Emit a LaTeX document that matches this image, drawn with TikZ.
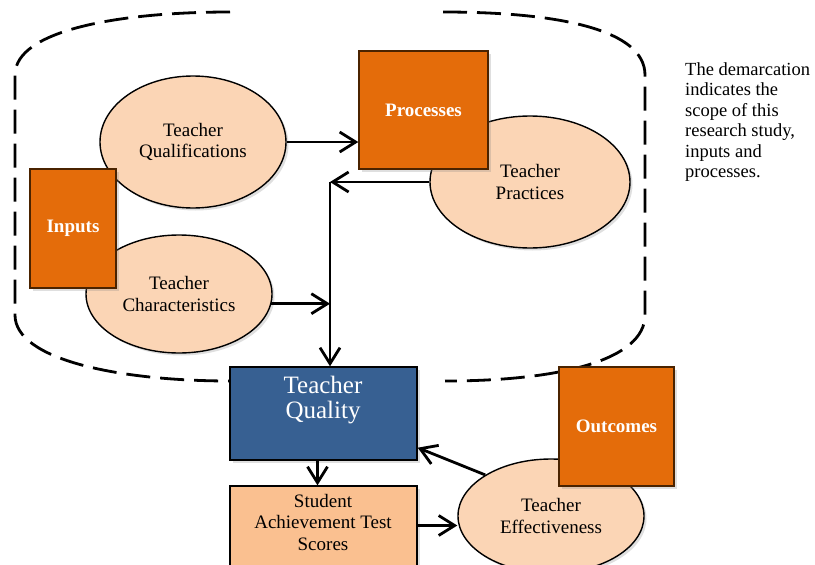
\documentclass[tikz,border=0pt]{standalone}
\usepackage{fontspec}
\setmainfont{Liberation Serif}
\usetikzlibrary{arrows.meta,shapes.geometric,shadows}
\definecolor{orng}{HTML}{E46C0A}
\definecolor{obord}{HTML}{4A2300}
\definecolor{tqblue}{HTML}{376092}
\definecolor{peach}{HTML}{FBD5B5}
\definecolor{peachdk}{HTML}{FAC090}
\begin{document}
\begin{tikzpicture}[x=1pt,y=-1pt,
  txt/.style={font=\fontsize{19}{21.5}\selectfont, align=center},
  shad/.style={drop shadow={opacity=0.25,shadow xshift=2.5pt,shadow yshift=-2.5pt}},
  oval/.style={ellipse, draw=black, line width=1.4pt, fill=peach, inner sep=0pt, txt, shad},
  orbox/.style={rectangle, draw=obord, line width=1.4pt, fill=orng, inner sep=0pt, text=white, align=center, font=\bfseries\fontsize{19}{21.5}\selectfont, shad},
  plainbox/.style={rectangle, draw=black, line width=1.4pt, inner sep=0pt, shad},
  arr/.style={line width=2.8pt, -{Straight Barb[length=16pt,width=20pt]}},
  demarc/.style={line width=2.8pt, dash pattern=on 24pt off 10pt}]
\clip (0,0) rectangle (815,565);
\fill[white] (0,0) rectangle (815,565);
% demarcation
\draw[demarc] (230,12) .. controls (120,12) and (15,30) .. (15,75) -- (15,315) .. controls (15,360) and (120,381) .. (230,381);
\draw[demarc] (443,12) .. controls (560,12) and (645,30) .. (645,75) -- (645,315) .. controls (645,360) and (560,381) .. (445,381);
% ellipses
\node[oval, minimum width=186pt, minimum height=132pt] (ql) at (193,142) {Teacher\\Qualifications};
\node[oval, minimum width=200pt, minimum height=132pt] (pc) at (530,182) {Teacher\\Practices};
\node[oval, minimum width=186pt, minimum height=118pt] (ch) at (179,294) {Teacher\\Characteristics};
\node[oval, minimum width=186pt, minimum height=114pt] (te) at (551,516) {Teacher\\Effectiveness};
% boxes
\node[orbox, minimum width=129pt, minimum height=118pt] (pr) at (423.5,110) {Processes};
\node[orbox, minimum width=86pt, minimum height=119pt] (inp) at (73,228.5) {Inputs};
\node[orbox, minimum width=115pt, minimum height=119pt] (oc) at (616.5,426.5) {Outcomes};
\node[plainbox, fill=tqblue, minimum width=187pt, minimum height=93pt] (tq) at (323.5,413.5) {};
\node[text=white, align=center, inner sep=0pt, font=\fontsize{25}{24.5}\selectfont] (tqt) at (323,400) {Teacher\\Quality};
\node[plainbox, fill=peachdk, minimum width=187pt, minimum height=89pt] (sa) at (323.5,530.5) {};
\node[txt, inner sep=0pt] (sat) at (323,522) {Student\\Achievement Test\\Scores};
% note
\node[align=left, anchor=north west, inner sep=0pt, font=\fontsize{18.5}{20.5}\selectfont] (note) at (685,62) {The demarcation\\indicates the\\scope of this\\research study,\\inputs and\\processes.};
% connectors
\coordinate (j1) at (330,182);
\draw[arr] (ql.east) -- (ql.east -| pr.west);
\draw[arr] (pc.west) -- (j1);
\draw[arr] (j1) -- (j1 |- tq.north);
\draw[arr] (ch.-6) -- (ch.-6 -| j1);
\draw[arr] ([xshift=-6pt]tq.south) -- ([xshift=-6pt]tq.south |- sa.north);
\draw[arr] ([yshift=5pt]sa.east) -- ([yshift=5pt]sa.east -| te.west);
\draw[arr] (te.148) -- ([yshift=13pt]tq.south east);
\end{tikzpicture}
\end{document}
